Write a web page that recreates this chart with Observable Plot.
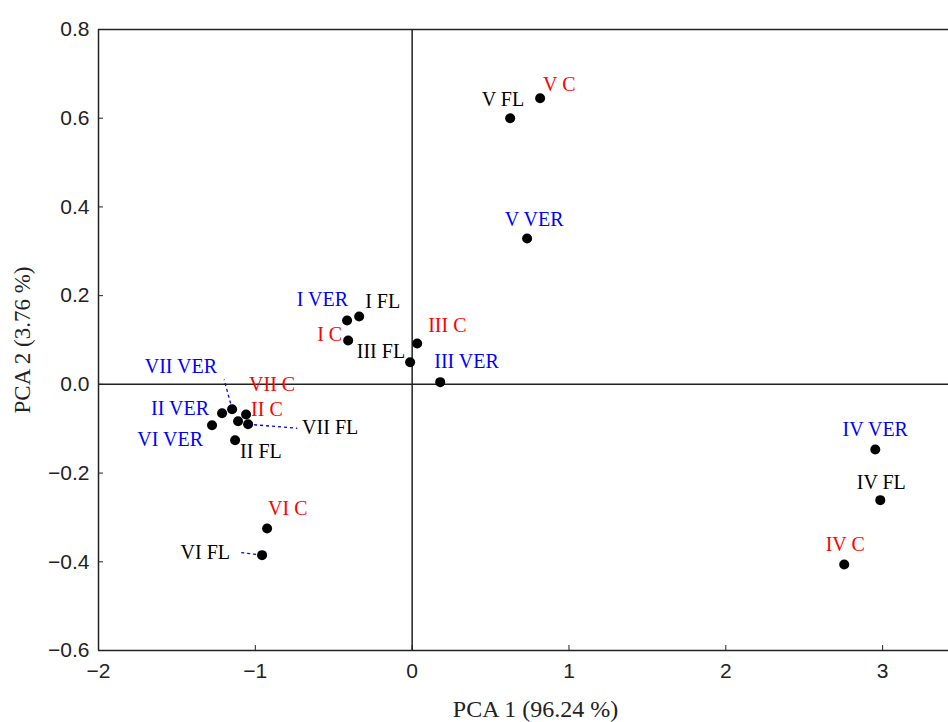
<!DOCTYPE html>
<html><head><meta charset="utf-8">
<script src="https://cdn.jsdelivr.net/npm/d3@7"></script>
<script src="https://cdn.jsdelivr.net/npm/@observablehq/plot@0.6"></script>
<style>body{margin:0;background:#fff}</style>
</head><body><div id="chart"></div>
<script>
const names = ["V C","V FL","V VER","I VER","I FL","I C","III C","III FL","III VER","IV VER","IV FL","IV C","VI C","VI FL","VII VER","II VER","VI VER","VII C","II C","VII FL","II FL"];
const groups = ["C","FL","VER","VER","FL","C","C","FL","VER","VER","FL","C","C","FL","VER","VER","VER","C","C","FL","FL"];
const pca1 = [0.816,0.625,0.733,-0.415,-0.338,-0.408,0.032,-0.013,0.179,2.953,2.985,2.755,-0.925,-0.957,-1.148,-1.212,-1.276,-1.059,-1.110,-1.046,-1.129];
const pca2 = [0.645,0.600,0.329,0.144,0.153,0.099,0.092,0.050,0.005,-0.147,-0.261,-0.406,-0.325,-0.385,-0.056,-0.065,-0.092,-0.068,-0.083,-0.090,-0.126];
const xTicks = [-2,-1,0,1,2,3];
const yTicks = [-0.6,-0.4,-0.2,0,0.2,0.4,0.6,0.8];
// label layout (pixel offsets, anchor)
const labDx = [3,14,7,1,6,-6,11,-5,-6,0,1,1,1,-32,-15,-13,-9,3,13,54,5];
const labDy = [-14,-19,-19,-21,-15,-6,-18,-11,-21,-20,-18,-20,-20,-3,-43,-5,14,-30,-12,3,11];
const labAnchor = ["start","end","middle","end","start","end","start","end","start","middle","middle","middle","start","end","end","end","end","start","start","start","start"];
// leader lines (point name -> end in data units)
const leaderNames = ["VII VER","VII FL","VI FL"];
const leaderEndX = [-1.199,-0.733,-1.097];
const leaderEndY = [0.011,-0.099,-0.379];

const colorOf = {C:"#ff0000", FL:"#000000", VER:"#0000ff"};
const pts = names.map((n,i)=>({name:n, group:groups[i], x:pca1[i], y:pca2[i], dx:labDx[i], dy:labDy[i], anchor:labAnchor[i]}));
const leaders = leaderNames.map((n,i)=>{const p=pts.find(d=>d.name===n);return {x1:p.x,y1:p.y,x2:leaderEndX[i],y2:leaderEndY[i]};});

const labelMarks = pts.map(d=>Plot.text([d],{x:"x",y:"y",text:"name",textAnchor:d.anchor,dx:d.dx,dy:d.dy,
  fill:colorOf[d.group], fontFamily:"Liberation Serif", fontSize:20}));

const fmtX = d=>d<0?"\u2212"+Math.abs(d):String(d);
const fmtY = d=>(d<0?"\u2212":"")+Math.abs(d).toFixed(1);

const chart = Plot.plot({
  width:948, height:722,
  marginLeft:98, marginTop:29, marginBottom:72, marginRight:0,
  x:{domain:[-2,3.42]},
  y:{domain:[-0.6,0.8]},
  style:{fontFamily:"Liberation Sans", fontSize:"21px", color:"#222", background:"#fff"},
  marks:[
    Plot.axisX({ticks:xTicks, tickFormat:fmtX, tickSize:-5, tickPadding:18, label:null, fontSize:21, fontFamily:"Liberation Sans"}),
    Plot.axisY({ticks:yTicks, tickFormat:fmtY, tickSize:-5, tickPadding:14, label:null, fontSize:21, fontFamily:"Liberation Sans"}),
    Plot.ruleY([0.8,-0.6],{stroke:"#222",strokeWidth:1.5}),
    Plot.ruleX([-2],{stroke:"#222",strokeWidth:1.5}),
    Plot.ruleY([0],{stroke:"#222",strokeWidth:1.5}),
    Plot.ruleX([0],{stroke:"#222",strokeWidth:1.5}),
    Plot.link(leaders,{x1:"x1",y1:"y1",x2:"x2",y2:"y2",stroke:"#0000ff",strokeDasharray:"3,3",strokeWidth:1.3}),
    Plot.dot(pts,{x:"x",y:"y",r:5,fill:"#000"}),
    ...labelMarks,
    Plot.text(["PCA 1 (96.24 %)"],{frameAnchor:"bottom",textAnchor:"middle",dx:12,dy:66,text:d=>d,fontFamily:"Liberation Serif",fontSize:24,fill:"#222"}),
    Plot.text(["PCA 2 (3.76 %)"],{frameAnchor:"left",textAnchor:"middle",dx:-76,rotate:-90,text:d=>d,fontFamily:"Liberation Serif",fontSize:23,fill:"#222"})
  ]
});
document.getElementById("chart").append(chart);
</script>
</body></html>
